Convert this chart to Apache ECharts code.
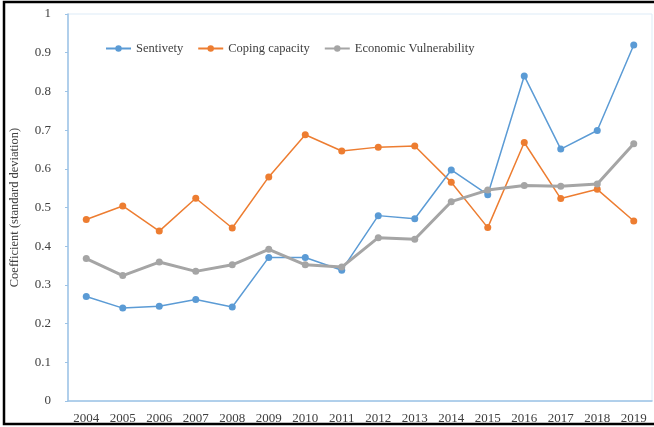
<!DOCTYPE html>
<html>
<head>
<meta charset="utf-8">
<script src="https://cdn.jsdelivr.net/npm/echarts@6/dist/echarts.min.js"></script>
<style>
html,body{margin:0;padding:0;background:#fff;}
#c{width:654px;height:427px;}
</style>
</head>
<body>
<div id="c"></div>
<script>
const years = ['2004','2005','2006','2007','2008','2009','2010','2011','2012','2013','2014','2015','2016','2017','2018','2019'];
const sensitivity = [0.270, 0.240, 0.245, 0.262, 0.243, 0.371, 0.371, 0.338, 0.479, 0.471, 0.597, 0.533, 0.840, 0.651, 0.699, 0.920];
const copingCapacity = [0.469, 0.504, 0.439, 0.524, 0.447, 0.579, 0.688, 0.646, 0.656, 0.659, 0.565, 0.448, 0.668, 0.523, 0.547, 0.465];
const economicVulnerability = [0.368, 0.324, 0.359, 0.335, 0.352, 0.392, 0.352, 0.346, 0.422, 0.418, 0.515, 0.545, 0.557, 0.555, 0.561, 0.665];
const seriesNames = ['Sentivety', 'Coping capacity', 'Economic Vulnerability'];

const chart = echarts.init(document.getElementById('c'));
const font = 'Liberation Serif, Times New Roman, serif';
const axisColor = '#9DC3E6';
chart.setOption({
  animation: false,
  textStyle: { fontFamily: font },
  grid: { left: 67, right: 2, top: 14, bottom: 26, show: true, borderColor: '#DDEBF7', borderWidth: 1 },
  legend: {
    left: 100, top: 37,
    itemWidth: 25, itemHeight: 8, itemGap: 14,
    textStyle: { fontFamily: font, fontSize: 12.5, color: '#404040' },
    data: seriesNames
  },
  xAxis: {
    type: 'category',
    data: years,
    boundaryGap: true,
    axisLine: { lineStyle: { color: axisColor, width: 1.5 } },
    axisTick: { inside: true, length: 4, lineStyle: { color: axisColor } },
    axisLabel: { fontFamily: font, fontSize: 13, color: '#404040', margin: 11 },
    splitLine: { show: false }
  },
  yAxis: {
    type: 'value',
    min: 0, max: 1, interval: 0.1,
    name: 'Coefficient (standard deviation)',
    nameLocation: 'middle',
    nameGap: 47,
    nameTextStyle: { fontFamily: font, fontSize: 12.5, color: '#404040' },
    axisLine: { show: true, lineStyle: { color: axisColor, width: 1.5 } },
    axisTick: { show: true, length: 3, lineStyle: { color: axisColor } },
    axisLabel: { fontFamily: font, fontSize: 13, color: '#404040', margin: 17 },
    splitLine: { show: false }
  },
  graphic: [{
    type: 'rect',
    shape: { x: 4, y: 2, width: 700, height: 422 },
    style: { fill: 'none', stroke: '#000', lineWidth: 2.5 },
    silent: true, z: 100
  }],
  series: [
    { name: seriesNames[0], type: 'line', data: sensitivity, symbol: 'circle', symbolSize: 7,
      itemStyle: { color: '#5B9BD5' }, lineStyle: { width: 1.5, color: '#5B9BD5' }, z: 3 },
    { name: seriesNames[1], type: 'line', data: copingCapacity, symbol: 'circle', symbolSize: 7,
      itemStyle: { color: '#ED7D31' }, lineStyle: { width: 1.5, color: '#ED7D31' }, z: 2 },
    { name: seriesNames[2], type: 'line', data: economicVulnerability, symbol: 'circle', symbolSize: 7,
      itemStyle: { color: '#A5A5A5' }, lineStyle: { width: 3, color: '#A5A5A5' }, z: 4 }
  ]
});
</script>
</body>
</html>
